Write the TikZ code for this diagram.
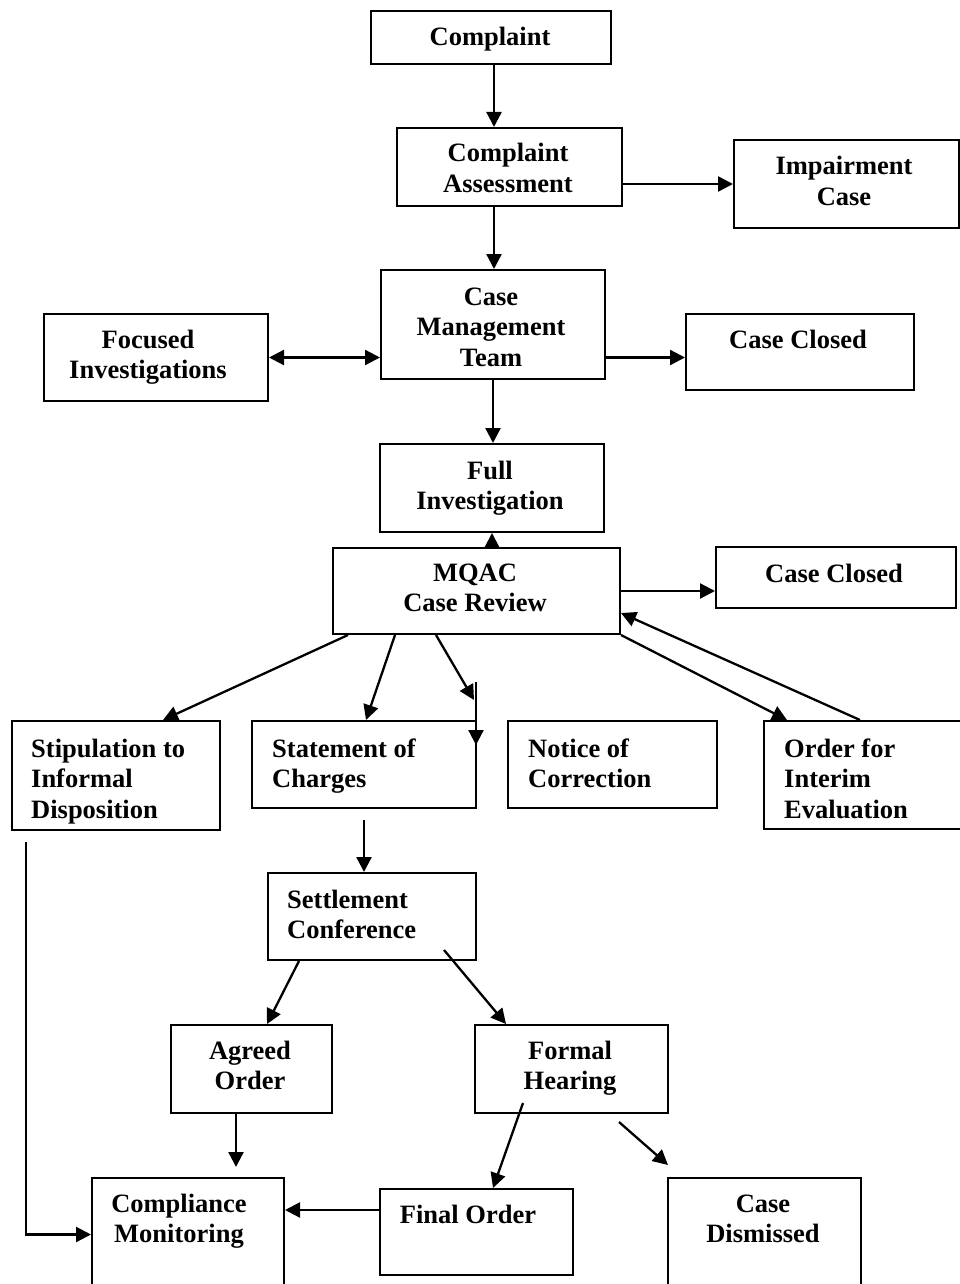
\documentclass[tikz,border=0pt]{standalone}
\usepackage{fontspec}
\setmainfont{Liberation Serif}
\usetikzlibrary{arrows.meta}
\newcommand\tlft[1]{\begin{tabular}[t]{@{}l@{}}#1\end{tabular}}
\newcommand\tctr[1]{\begin{tabular}[t]{@{}c@{}}#1\end{tabular}}
\tikzset{
  box/.style={draw, line width=2pt, rectangle, inner sep=0pt, anchor=north west},
  txt/.style={inner sep=0pt, font=\fontsize{26.5}{30.5}\selectfont\bfseries},
  arr/.style={line width=2.3pt, -{Triangle[length=15pt,width=15pt]}},
  darr/.style={line width=2.3pt, {Triangle[length=15pt,width=15pt]}-{Triangle[length=15pt,width=15pt]}},
}
\begin{document}
\begin{tikzpicture}[x=1pt,y=-1pt]
\useasboundingbox[fill=white] (0,0) rectangle (959,1284);
% boxes
\node[box, minimum width=240pt, minimum height=53pt] (comp) at (370,10) {};
\node[box, minimum width=225pt, minimum height=78pt] (ca) at (396,127) {};
\node[box, minimum width=225pt, minimum height=88pt] (imp) at (733,139) {};
\node[box, minimum width=224pt, minimum height=109pt] (cmt) at (380,269) {};
\node[box, minimum width=224pt, minimum height=87pt] (foc) at (43,313) {};
\node[box, minimum width=228pt, minimum height=76pt] (cc1) at (685,313) {};
\node[box, minimum width=224pt, minimum height=88pt] (fi) at (379,443) {};
\node[box, minimum width=287pt, minimum height=86pt] (mqac) at (332,547) {};
\node[box, minimum width=240pt, minimum height=61pt] (cc2) at (715,546) {};
\node[box, minimum width=208pt, minimum height=109pt] (stip) at (11,720) {};
\node[box, minimum width=224pt, minimum height=87pt] (soc) at (251,720) {};
\node[box, minimum width=209pt, minimum height=87pt] (noc) at (507,720) {};
\node[box, minimum width=200pt, minimum height=108pt] (oie) at (763,720) {};
\node[box, minimum width=208pt, minimum height=87pt] (sc) at (267,872) {};
\node[box, minimum width=161pt, minimum height=88pt] (ao) at (170,1024) {};
\node[box, minimum width=193pt, minimum height=88pt] (fh) at (474,1024) {};
\node[box, minimum width=192pt, minimum height=113pt] (cm) at (91,1177) {};
\node[box, minimum width=193pt, minimum height=86pt] (fo) at (379,1188) {};
\node[box, minimum width=193pt, minimum height=113pt] (cd) at (667,1177) {};
% texts
\node[txt, anchor=base] (t-comp) at (490,46) {\tctr{Complaint}};
\node[txt, anchor=base] (t-ca) at (508,162) {\tctr{Complaint\\Assessment}};
\node[txt, anchor=base] (t-imp) at (844,175) {\tctr{Impairment\\Case}};
\node[txt, anchor=base] (t-cmt) at (491,305) {\tctr{Case\\Management\\Team}};
\node[txt, anchor=base] (t-foc) at (148,348) {\tctr{Focused\\Investigations}};
\node[txt, anchor=base] (t-cc1) at (798,348) {\tctr{Case Closed}};
\node[txt, anchor=base] (t-fi) at (490,479) {\tctr{Full\\Investigation}};
\node[txt, anchor=base] (t-mqac) at (475,581) {\tctr{MQAC\\Case Review}};
\node[txt, anchor=base] (t-cc2) at (834,582) {\tctr{Case Closed}};
\node[txt, anchor=base west] (t-stip) at (31,757) {\tlft{Stipulation to\\Informal\\Disposition}};
\node[txt, anchor=base west] (t-soc) at (272,757) {\tlft{Statement of\\Charges}};
\node[txt, anchor=base west] (t-noc) at (528,757) {\tlft{Notice of\\Correction}};
\node[txt, anchor=base west] (t-oie) at (784,757) {\tlft{Order for\\Interim\\Evaluation}};
\node[txt, anchor=base west] (t-sc) at (287,908) {\tlft{Settlement\\Conference}};
\node[txt, anchor=base] (t-ao) at (250,1059) {\tctr{Agreed\\Order}};
\node[txt, anchor=base] (t-fh) at (570,1059) {\tctr{Formal\\Hearing}};
\node[txt, anchor=base] (t-cm) at (179,1212) {\tctr{Compliance\\Monitoring}};
\node[txt, anchor=base] (t-fo) at (468,1223) {\tctr{Final Order}};
\node[txt, anchor=base] (t-cd) at (763,1212) {\tctr{Case\\Dismissed}};
% connectors
\draw[arr] ([xshift=3pt]comp.south) -- ([xshift=3pt]comp.south |- ca.north);
\draw[arr] ([yshift=-17pt]ca.east) -- ([yshift=-17pt]ca.east -| imp.west);
\draw[arr] ([xshift=-15.5pt]ca.south) -- ([xshift=-15.5pt]ca.south |- cmt.north);
\draw[darr] (foc.east) -- (foc.east -| cmt.west);
\draw[arr] (cmt.east |- foc.east) -- (cc1.west |- foc.east);
\draw[arr] (cmt.south) -- (cmt.south |- fi.north);
\draw[arr] (fi.south |- mqac.north) -- (fi.south);
\draw[arr] (mqac.east) -- (mqac.east -| cc2.west);
\draw[arr] ([xshift=16pt]mqac.south west) -- ([xshift=47pt]stip.north);
\draw[arr] ([xshift=63pt]mqac.south west) -- ([xshift=2pt]soc.north);
\coordinate (stray1) at (474,700);
\coordinate (stray2a) at (476,682);
\coordinate (stray2b) at (476,745);
\draw[arr] ([xshift=104pt]mqac.south west) -- (stray1);
\draw[arr] (stray2a) -- (stray2b);
\draw[arr] (mqac.south east) -- ([xshift=24pt]oie.north west);
\draw[arr] ([xshift=97pt]oie.north west) -- ([yshift=-22pt]mqac.east);
\draw[arr] ([yshift=-11pt]soc.south) -- (soc.south |- sc.north);
\draw[arr] ([xshift=32pt]sc.south west) -- ([xshift=97pt]ao.north west);
\draw[arr] ([xshift=-33pt,yshift=11pt]sc.south east) -- ([xshift=32pt]fh.north west);
\draw[arr] ([xshift=-15.5pt]ao.south) -- ([xshift=-15.5pt,yshift=10pt]ao.south |- cm.north);
\draw[arr] ([xshift=49pt,yshift=11pt]fh.south west) -- ([xshift=16.5pt]fo.north);
\coordinate (cdfree) at (619,1122);
\draw[arr] (cdfree) -- ([xshift=1pt,yshift=12pt]cd.north west);
\draw[arr] ([yshift=22pt]fo.west) -- ([yshift=22pt]fo.west -| cm.east);
\draw[arr] ([xshift=15pt,yshift=-11pt]stip.south west) |- (cm.west);
\end{tikzpicture}
\end{document}
